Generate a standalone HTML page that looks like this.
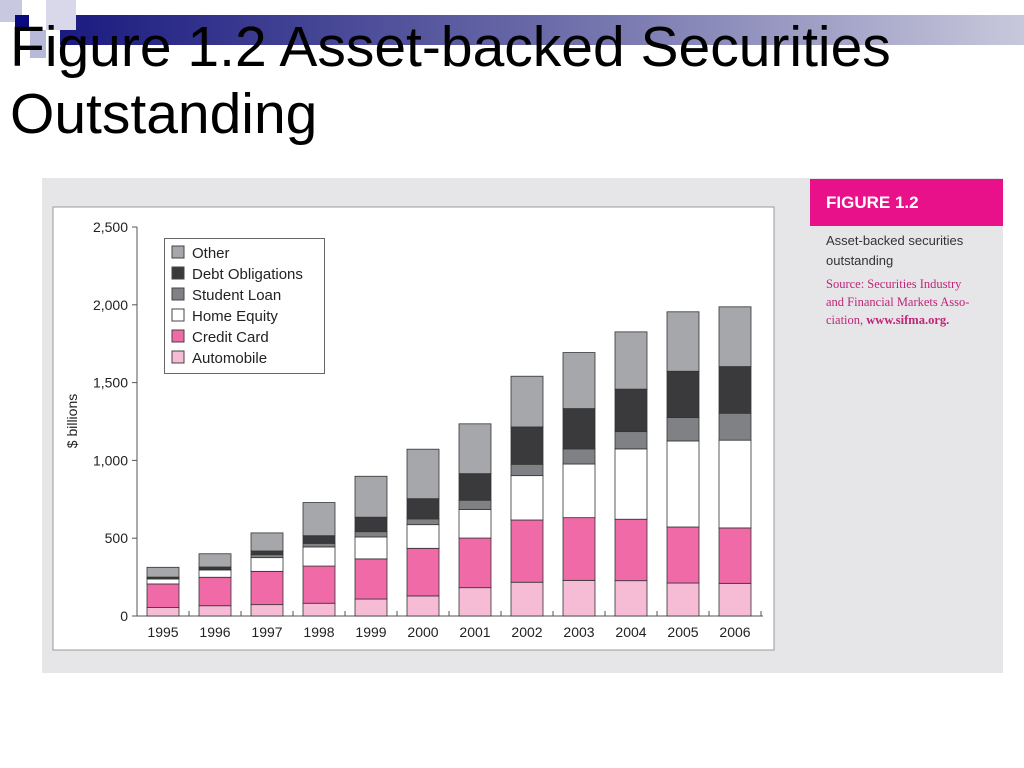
<!DOCTYPE html>
<html><head><meta charset="utf-8"><style>
body{margin:0;width:1024px;height:768px;background:#fff;position:relative;overflow:hidden;font-family:"Liberation Sans",sans-serif}
.abs{position:absolute}
</style></head><body>
<div class="abs" style="left:60px;top:15px;width:964px;height:30px;background:linear-gradient(90deg,#1a1a80,#6a6aa8 50%,#c8c8dc)"></div>
<div class="abs" style="left:0;top:0;width:22px;height:22px;background:#c8c8e0"></div>
<div class="abs" style="left:15px;top:15px;width:14px;height:14px;background:#0a0a80"></div>
<div class="abs" style="left:46px;top:0;width:30px;height:30px;background:#d8d8ea"></div>
<div class="abs" style="left:30px;top:30px;width:16px;height:28px;background:#b8b8d8"></div>
<div class="abs" style="left:10px;top:14px;font-size:57px;line-height:67px;color:#000">Figure 1.2 Asset-backed Securities<br>Outstanding</div>
<div class="abs" style="left:42px;top:178px;width:961px;height:495px;background:#e6e6e8"></div>
<div class="abs" style="left:810px;top:179px;width:193px;height:47px;background:#e8118a;color:#fff;font-weight:bold;font-size:17px;line-height:47px;padding-left:16px;box-sizing:border-box">FIGURE 1.2</div>
<div class="abs" style="left:826px;top:231px;font-size:13px;line-height:20px;color:#333">Asset-backed securities<br>outstanding</div>
<div class="abs" style="left:826px;top:275px;font-family:'Liberation Serif',serif;font-size:12.5px;line-height:18px;color:#c0247a">Source: Securities Industry<br>and Financial Markets Asso-<br>ciation, <b>www.sifma.org.</b></div>
<svg class="abs" style="left:0;top:0" width="1024" height="768">
<rect x="53" y="207" width="721" height="443" fill="#fff" stroke="#999"/>
<g id="g"></g>
</svg>
<script>
const years=["1995","1996","1997","1998","1999","2000","2001","2002","2003","2004","2005","2006"];
const automobile=[54,66,73,82,109,129,182,217,229,227,212,210];
const creditCard=[152,183,214,239,258,306,319,400,403,395,360,356];
const homeEquity=[32,47,88,123,141,152,183,285,345,452,553,564];
const studentLoan=[6,4,19,23,34,37,60,73,97,111,150,173];
const debtObligations=[6,15,24,49,93,130,171,240,259,273,298,300];
const other=[63,85,116,213,263,318,320,326,360,368,382,384];
const yTicks=[0,500,1000,1500,2000,2500];
const yTickLabels=["0","500","1,000","1,500","2,000","2,500"];
const series=[["Automobile",automobile,"#f6bcd6"],["Credit Card",creditCard,"#ef6aa6"],["Home Equity",homeEquity,"#ffffff"],["Student Loan",studentLoan,"#808184"],["Debt Obligations",debtObligations,"#3a3a3c"],["Other",other,"#a6a7aa"]];
const NS="http://www.w3.org/2000/svg",g=document.getElementById('g');
const y=v=>616-v*(389/2500);
const x=i=>163+i*52;
function el(t,a,txt){const e=document.createElementNS(NS,t);for(const k in a)e.setAttribute(k,a[k]);if(txt!=null)e.textContent=txt;g.appendChild(e);return e;}
let e=el('line',{x1:137,y1:y(2500),x2:137,y2:616,stroke:'#555'});


e=el('line',{x1:137,y1:616,x2:763,y2:616,stroke:'#555'});


yTicks.forEach((t,i)=>{
 let l=el('line',{x1:132,y1:y(t),x2:137,y2:y(t),stroke:'#555'});
 
 
 let tx=el('text',{x:128,y:y(t)+5,'text-anchor':'end','font-size':14,fill:'#222'},yTickLabels[i]);
 
 
});
e=el('text',{transform:'translate(77,421) rotate(-90)','text-anchor':'middle','font-size':14,fill:'#222'},'$ billions');


years.forEach((yr,i)=>{
 let l=el('line',{x1:x(i)+26,y1:611,x2:x(i)+26,y2:616,stroke:'#555'});
 
 
 let tx=el('text',{x:x(i),y:637,'text-anchor':'middle','font-size':14,fill:'#222'},yr);
 
 
 let cum=0;
 series.forEach(s=>{
  const v=s[1][i];
  let r=el('rect',{x:x(i)-16,y:y(cum+v),width:32,height:y(cum)-y(cum+v),fill:s[2],stroke:'#333','stroke-width':0.8});
  
  
  cum+=v;
 });
});
e=el('rect',{x:164.5,y:238.5,width:160,height:135,fill:'#fff',stroke:'#666'});


series.slice().reverse().forEach((s,k)=>{
 let r=el('rect',{x:172,y:246+k*21,width:12,height:12,fill:s[2],stroke:'#444'});
 
 
 let t=el('text',{x:192,y:258+k*21,'font-size':15,fill:'#222'},s[0]);
 
 
});
</script>
</body></html>
